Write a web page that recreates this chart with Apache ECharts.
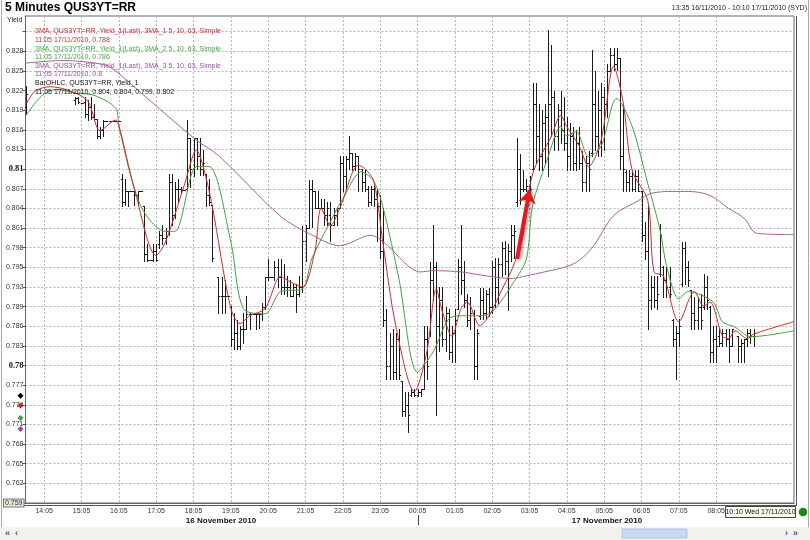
<!DOCTYPE html>
<html><head><meta charset="utf-8">
<script src="https://cdn.jsdelivr.net/npm/echarts@6/dist/echarts.min.js"></script>
<style>html,body{margin:0;padding:0;background:#fff}#c{width:810px;height:540px}</style>
</head><body><div id="c"></div>
<script>
// ---- DATA ----
const startMinute = 13 * 60 + 35;   // 13:35 16/11/2010
const slotCount = 248;              // 5-minute slots to 10:10 17/11/2010
const hourTickLabels = ['14:05','15:05','16:05','17:05','18:05','19:05','20:05','21:05','22:05','23:05','00:05','01:05','02:05','03:05','04:05','05:05','06:05','07:05','08:05'];
const yTickValues = [0.759,0.762,0.765,0.768,0.771,0.774,0.777,0.78,0.783,0.786,0.789,0.792,0.795,0.798,0.801,0.804,0.807,0.81,0.813,0.816,0.819,0.822,0.825,0.828];

// [slot, open, high, low, close]
const ohlcBars = [
[0,.8195,.8227,.8185,.8215],
[16,.8205,.8211,.8200,.8208],[17,.8208,.8211,.8201,.8203],[18,.8201,.8201,.8201,.8201],
[19,.8203,.8211,.8180,.8185],[20,.8185,.8205,.8175,.8195],[21,.8195,.8210,.8176,.8180],[22,.8180,.8200,.8175,.8176],
[23,.8176,.8176,.8147,.8150],[24,.8150,.8165,.8147,.8160],[25,.8160,.8175,.8150,.8174],
[26,.8174,.8174,.8174,.8174],[27,.8174,.8174,.8174,.8174],[28,.8174,.8174,.8174,.8174],[29,.8174,.8174,.8174,.8174],[30,.8174,.8174,.8174,.8174],
[31,.8085,.8093,.8043,.8050],[32,.8050,.8085,.8045,.8066],[33,.8066,.8067,.8043,.8066],[34,.8066,.8066,.8066,.8066],
[35,.8066,.8066,.8045,.8060],[36,.8060,.8067,.8045,.8066],[37,.8066,.8066,.8066,.8066],
[38,.8043,.8043,.7960,.7970],[39,.7970,.7986,.7960,.7962],[40,.7962,.7962,.7962,.7962],[41,.7962,.7986,.7960,.7975],[42,.7975,.7986,.7960,.7962],
[43,.7985,.8005,.7979,.8000],[44,.8000,.8014,.7985,.7995],[45,.7995,.8010,.7985,.8005],
[46,.8005,.8093,.8000,.8080],[47,.8080,.8093,.8014,.8030],[48,.8030,.8080,.8025,.8070],[49,.8070,.8085,.8050,.8070],
[50,.8070,.8072,.8065,.8068],[51,.8068,.8068,.8068,.8068],
[52,.8070,.8175,.8068,.8147],[53,.8147,.8147,.8072,.8100],[54,.8100,.8147,.8090,.8147],
[55,.8147,.8147,.8100,.8120],[56,.8120,.8147,.8091,.8100],[57,.8100,.8130,.8091,.8110],
[58,.8093,.8093,.8043,.8060],[59,.8060,.8085,.8045,.8050],[60,.8045,.8045,.7960,.7965],
[62,.7935,.7936,.7880,.7907],[63,.7907,.7935,.7880,.7907],[64,.7907,.7930,.7880,.7907],[65,.7907,.7907,.7907,.7907],
[66,.7890,.7891,.7830,.7840],[67,.7840,.7880,.7826,.7850],[68,.7850,.7870,.7826,.7830],[69,.7830,.7860,.7826,.7856],[70,.7856,.7880,.7835,.7856],
[71,.7856,.7907,.7856,.7879],[72,.7879,.7880,.7856,.7879],[73,.7879,.7879,.7879,.7879],[74,.7879,.7879,.7856,.7879],[75,.7879,.7880,.7857,.7879],[76,.7879,.7895,.7870,.7890],
[77,.7890,.7935,.7887,.7935],[78,.7935,.7963,.7930,.7935],[79,.7935,.7935,.7935,.7935],[80,.7935,.7960,.7930,.7950],[81,.7950,.7963,.7920,.7935],[82,.7935,.7963,.7910,.7920],
[83,.7920,.7955,.7910,.7920],[84,.7920,.7937,.7907,.7920],[85,.7920,.7930,.7907,.7907],[86,.7907,.7925,.7907,.7920],[87,.7920,.7925,.7882,.7910],[88,.7910,.7937,.7907,.7920],
[89,.7920,.8013,.7912,.7990],[90,.7990,.8015,.7960,.8010],[91,.8010,.8083,.8010,.8070],[92,.8070,.8083,.8012,.8067],
[93,.8067,.8067,.8040,.8041],[94,.8041,.8067,.8040,.8041],[95,.8041,.8055,.8040,.8041],
[96,.8041,.8055,.8014,.8030],[97,.8030,.8050,.8014,.8040],[98,.8030,.8050,.7990,.8014],[99,.8014,.8040,.8014,.8030],[100,.8030,.8040,.8014,.8040],
[101,.8040,.8120,.8040,.8110],[102,.8110,.8120,.8067,.8090],[103,.8090,.8120,.8070,.8115],
[104,.8115,.8150,.8100,.8124],[105,.8124,.8124,.8098,.8105],[106,.8105,.8124,.8098,.8120],
[107,.8120,.8120,.8067,.8100],[108,.8100,.8100,.8067,.8080],[109,.8080,.8098,.8067,.8070],
[110,.8070,.8075,.8044,.8050],[111,.8050,.8075,.8045,.8070],[112,.8070,.8075,.8044,.8055],[113,.8055,.8070,.7990,.8044],
[114,.8044,.8060,.7965,.7975],[115,.7975,.8040,.7860,.7870],
[116,.7870,.7887,.7780,.7800],[117,.7800,.7850,.7780,.7830],[118,.7830,.7856,.7780,.7790],[119,.7790,.7850,.7780,.7840],[120,.7840,.7856,.7780,.7785],
[121,.7777,.7777,.7723,.7730],[122,.7730,.7760,.7723,.7740],[123,.7740,.7760,.7698,.7725],
[124,.7755,.7764,.7754,.7760],[125,.7760,.7764,.7754,.7755],[126,.7755,.7764,.7754,.7760],[127,.7760,.7764,.7754,.7764],
[128,.7764,.7860,.7764,.7840],[129,.7840,.7860,.7780,.7800],
[130,.7850,.7958,.7845,.7930],[131,.7930,.8014,.7900,.7950],[132,.7950,.7958,.7725,.7860],
[133,.7860,.7920,.7822,.7900],[134,.7900,.7920,.7830,.7840],[135,.7840,.7890,.7822,.7880],
[136,.7880,.7887,.7810,.7820],[137,.7820,.7860,.7806,.7850],[138,.7850,.7887,.7806,.7870],
[139,.7887,.7963,.7887,.7950],[140,.7950,.8014,.7910,.7930],[141,.7930,.7960,.7890,.7900],
[142,.7900,.7910,.7860,.7870],[143,.7870,.7905,.7856,.7880],[144,.7880,.7885,.7780,.7800],[145,.7800,.7856,.7780,.7850],
[146,.7875,.7918,.7871,.7900],[147,.7900,.7918,.7871,.7880],[148,.7880,.7915,.7871,.7910],[149,.7910,.7918,.7875,.7890],
[150,.7890,.7960,.7880,.7950],[151,.7950,.7965,.7890,.7920],[152,.7920,.7965,.7895,.7955],
[153,.7955,.7988,.7937,.7980],[154,.7980,.7990,.7940,.7960],[155,.7960,.7985,.7885,.7975],
[156,.7975,.8014,.7960,.8000],[157,.8000,.8014,.7965,.8005],
[158,.8050,.8147,.8044,.8100],[159,.8100,.8123,.8047,.8070],
[160,.8070,.8098,.8067,.8070],[161,.8070,.8085,.8067,.8075],[162,.8075,.8090,.8067,.8070],
[163,.8100,.8231,.8098,.8200],[164,.8200,.8231,.8110,.8150],
[165,.8150,.8200,.8098,.8120],[166,.8120,.8190,.8098,.8170],[167,.8170,.8200,.8110,.8180],
[168,.8180,.8312,.8090,.8200],[169,.8200,.8290,.8150,.8210],
[170,.8210,.8220,.8130,.8150],[171,.8150,.8200,.8130,.8190],[172,.8190,.8220,.8140,.8160],[173,.8160,.8210,.8130,.8140],
[174,.8140,.8180,.8098,.8120],[175,.8120,.8170,.8098,.8150],
[176,.8150,.8165,.8098,.8110],[177,.8110,.8160,.8098,.8140],[178,.8140,.8165,.8100,.8110],
[179,.8110,.8128,.8067,.8080],[180,.8080,.8120,.8067,.8110],[181,.8110,.8128,.8067,.8100],
[182,.8125,.8282,.8120,.8200],[183,.8200,.8250,.8130,.8150],[184,.8150,.8220,.8120,.8190],
[185,.8190,.8231,.8120,.8210],[186,.8210,.8225,.8130,.8200],[187,.8200,.8260,.8180,.8250],
[188,.8250,.8285,.8250,.8275],[189,.8275,.8285,.8252,.8260],[190,.8260,.8285,.8252,.8270],
[191,.8270,.8270,.8100,.8120],[192,.8120,.8200,.8067,.8100],
[193,.8095,.8098,.8067,.8080],[194,.8080,.8098,.8067,.8090],[195,.8090,.8098,.8067,.8070],[196,.8070,.8098,.8067,.8090],[197,.8090,.8098,.8067,.8067],
[198,.8067,.8067,.7990,.8000],[199,.8000,.8020,.7963,.7975],
[200,.7975,.8044,.7856,.7900],[201,.7900,.7937,.7887,.7920],[202,.7920,.7937,.7890,.7900],[203,.7900,.7937,.7887,.7910],
[204,.7940,.8016,.7937,.8000],
[205,.7950,.7952,.7905,.7930],[206,.7930,.7950,.7905,.7920],[207,.7920,.7950,.7905,.7910],
[208,.7870,.7871,.7830,.7840],[209,.7840,.7860,.7780,.7850],[210,.7850,.7871,.7830,.7860],
[211,.7925,.7989,.7922,.7980],[212,.7980,.7989,.7925,.7950],[213,.7950,.7960,.7922,.7930],
[214,.7915,.7915,.7856,.7880],[215,.7880,.7905,.7856,.7870],[216,.7870,.7905,.7856,.7890],[217,.7890,.7910,.7856,.7870],
[218,.7890,.7940,.7887,.7920],[219,.7920,.7937,.7887,.7900],
[220,.7890,.7891,.7806,.7820],[221,.7820,.7860,.7806,.7840],[222,.7840,.7860,.7806,.7830],
[223,.7845,.7856,.7830,.7835],[224,.7835,.7856,.7830,.7850],[225,.7850,.7856,.7830,.7840],
[226,.7840,.7856,.7806,.7830],[227,.7830,.7856,.7830,.7856],
[229,.7845,.7845,.7806,.7830],[230,.7830,.7840,.7806,.7835],[231,.7835,.7840,.7806,.7840],
[232,.7840,.7856,.7830,.7850],[233,.7850,.7856,.7835,.7845],[234,.7845,.7856,.7830,.7850]
];

// [slot, value]
const ma5Points = [
[0,.8197],[3,.8219],[8,.8226],[14,.8220],[20,.8204],[24,.8159],[29,.8175],[30,.8167],[35,.8070],[42,.7968],[45,.7989],
[51,.8075],[55,.8129],[57,.8106],[60,.8044],[66,.7887],[69,.7864],[72,.7876],[77,.7887],[82,.7936],[85,.7928],[89,.7920],
[93,.7974],[95,.8040],[98,.8014],[101,.8040],[107,.8106],[109,.8101],[112,.8081],[115,.7983],[119,.7861],[125,.7760],
[129,.7821],[132,.7917],[134,.7882],[137,.7845],[140,.7887],[142,.7897],[146,.7861],[149,.7876],[153,.7915],[156,.7943],
[158,.7968],[160,.8000],[163,.8093],[169,.8150],[172,.8182],[174,.8165],[178,.8135],[181,.8104],[185,.8144],[189,.8257],
[192,.8205],[195,.8098],[200,.8052],[202,.7943],[205,.7937],[210,.7867],[215,.7913],[218,.7891],[220,.7897],[224,.7845],
[226,.7841],[228,.7853],[232,.7841],[234,.7848],[247,.7867]
];
const ma10Points = [
[0,.8181],[5,.8211],[10,.8222],[16,.8216],[22,.8213],[29,.8193],[30,.8165],[37,.8044],[45,.8005],[48,.8005],[55,.8104],
[59,.8104],[66,.7989],[70,.7887],[77,.7879],[82,.7913],[89,.7917],[92,.7963],[98,.8020],[102,.8055],[108,.8096],[112,.8081],
[115,.8040],[120,.7933],[126,.7790],[131,.7821],[136,.7871],[140,.7876],[146,.7876],[150,.7882],[157,.7928],[161,.7963],
[163,.8045],[168,.8119],[172,.8165],[174,.8151],[177,.8157],[181,.8119],[185,.8135],[190,.8208],[195,.8165],[200,.8078],
[204,.8006],[206,.7953],[210,.7902],[213,.7913],[221,.7897],[224,.7867],[228,.7859],[233,.7844],[247,.7853]
];
const ma63Points = [
[0,.8262],[12,.8266],[25,.8260],[29,.8250],[38,.8213],[55,.8144],[62,.8121],[82,.8028],[91,.8002],[101,.7983],[111,.7999],
[115,.7989],[127,.7943],[131,.7945],[140,.7943],[148,.7937],[156,.7933],[161,.7937],[164,.7940],[176,.7955],[182,.7979],
[189,.8029],[197,.8052],[201,.8063],[208,.8066],[213,.8066],[220,.8060],[226,.8040],[231,.8025],[235,.8002],[247,.8000]
];
// last values shown as markers on the left of the value axis
const axisMarkers = [['#000000',.7754],['#d02020',.7739],['#3aa83a',.7720],['#9a4e96',.7703]];
// arrow annotation: [slot, value] start and end
const arrowFrom = [158, .7963];
const arrowTo = [162, .8068];

const legendLines = [
 ['3MA, QUS3YT=RR, Yield_1(Last), 3MA_1 5, 10, 63, Simple','#c83232'],
 ['11:05 17/11/2010, 0.788','#c83232'],
 ['3MA, QUS3YT=RR, Yield_1(Last), 3MA_2 5, 10, 63, Simple','#4aa84a'],
 ['11:05 17/11/2010, 0.786','#4aa84a'],
 ['3MA, QUS3YT=RR, Yield_1(Last), 3MA_3 5, 10, 63, Simple','#9a4e96'],
 ['11:05 17/11/2010, 0.8','#9a4e96'],
 ['BarOHLC, QUS3YT=RR, Yield_1','#111111'],
 ['11:05 17/11/2010, 0.804, 0.804, 0.799, 0.802','#111111']
];

// ---- AXIS CATEGORIES ----
const categories = [];
for (let i = 0; i < slotCount; i++) {
  const t = (startMinute + i * 5) % 1440;
  categories.push(String(Math.floor(t / 60)).padStart(2, '0') + ':' + String(t % 60).padStart(2, '0'));
}
const isHourTick = (idx) => hourTickLabels.indexOf(categories[idx]) >= 0 && idx < 230;

const FONT = '"Liberation Sans", Arial, sans-serif';
const chart = echarts.init(document.getElementById('c'), null, {renderer: 'canvas'});

function renderOHLC(params, api) {
  const x = api.value(0);
  const o = api.coord([x, api.value(1)]);
  const h = api.coord([x, api.value(2)]);
  const l = api.coord([x, api.value(3)]);
  const c = api.coord([x, api.value(4)]);
  const px = Math.round(h[0]) + 0.5;
  const s = {stroke: '#1c1c1c', lineWidth: 1};
  const oy = Math.round(o[1]) + 0.5, cy = Math.round(c[1]) + 0.5;
  return {type: 'group', children: [
    {type: 'line', shape: {x1: px, y1: Math.round(h[1]), x2: px, y2: Math.round(l[1]) + 1}, style: s},
    {type: 'line', shape: {x1: px - 1.7, y1: oy, x2: px, y2: oy}, style: s},
    {type: 'line', shape: {x1: px, y1: cy, x2: px + 1.7, y2: cy}, style: s}
  ]};
}

const graphics = [
  {type: 'text', left: 5, top: 2, style: {text: '5 Minutes QUS3YT=RR', font: 'bold 12px ' + FONT, fill: '#000'}},
  {type: 'text', right: 3, top: 5, style: {text: '13:35 16/11/2010 - 10:10 17/11/2010 (SYD)', font: '7px ' + FONT, fill: '#222'}},
  {type: 'text', left: 7, top: 17, style: {text: 'Yield', font: '7px ' + FONT, fill: '#222'}},
  {type: 'line', shape: {x1: 796.5, y1: 16, x2: 796.5, y2: 505.5}, style: {stroke: '#555', lineWidth: 1}},
  {type: 'line', shape: {x1: 23, y1: 505.5, x2: 797, y2: 505.5}, style: {stroke: '#555', lineWidth: 1}},
  {type: 'text', x: 221, y: 517, style: {text: '16 November 2010', font: 'bold 8px ' + FONT, fill: '#111', align: 'center'}},
  {type: 'text', x: 607, y: 517, style: {text: '17 November 2010', font: 'bold 8px ' + FONT, fill: '#111', align: 'center'}},
  {type: 'line', shape: {x1: 418.5, y1: 515, x2: 418.5, y2: 525}, style: {stroke: '#444', lineWidth: 1}},
  {type: 'rect', z: 100, shape: {x: 725.5, y: 506.5, width: 70, height: 11}, style: {fill: '#fbfbf0', stroke: '#444', lineWidth: 1}},
  {type: 'text', z: 101, x: 760.5, y: 508.5, style: {text: '10:10 Wed 17/11/2010', font: '7px ' + FONT, fill: '#111', align: 'center'}},
  {type: 'circle', z: 101, shape: {cx: 803, cy: 512, r: 4.3}, style: {fill: '#168a16'}},
  {type: 'rect', shape: {x: 0, y: 527, width: 810, height: 13}, style: {fill: '#f1f1ee'}},
  {type: 'rect', shape: {x: 622, y: 529, width: 65, height: 9}, style: {fill: '#cad9f1', stroke: '#b0c4e6', lineWidth: 1}},
  {type: 'text', x: 5, y: 529, style: {text: '\u00AB  \u2039', font: 'bold 9px ' + FONT, fill: '#3357b0'}},
  {type: 'text', x: 785, y: 529, style: {text: '\u203A  \u00BB', font: 'bold 9px ' + FONT, fill: '#3357b0'}},
  {type: 'line', shape: {x1: 1.5, y1: 0, x2: 1.5, y2: 527}, style: {stroke: '#aaa', lineWidth: 1}},
  {type: 'line', shape: {x1: 808.5, y1: 0, x2: 808.5, y2: 527}, style: {stroke: '#aaa', lineWidth: 1}}
];
legendLines.forEach((ln, k) => {
  graphics.push({type: 'text', left: 35, top: 28 + k * 8.6, z: 50,
    style: {text: ln[0], font: '7px ' + FONT, fill: ln[1]}});
});

const option = {
  animation: false,
  backgroundColor: '#ffffff',
  grid: {left: 24, right: 16, top: 16, bottom: 37, show: true, borderColor: '#666', borderWidth: 1, backgroundColor: '#fff'},
  xAxis: {
    type: 'category', data: categories, boundaryGap: false,
    axisLine: {show: true, lineStyle: {color: '#666'}},
    axisTick: {show: false},
    axisLabel: {interval: (i) => isHourTick(i), fontSize: 7, color: '#333', margin: 5, fontFamily: FONT},
    splitLine: {show: true, interval: (i) => isHourTick(i), lineStyle: {color: '#b5b5b5', type: [2, 2], width: 1}}
  },
  yAxis: {
    type: 'value', min: 0.759, max: 0.8334, interval: 0.003, position: 'left',
    axisLine: {show: true, lineStyle: {color: '#666'}},
    axisTick: {show: true, length: 3, lineStyle: {color: '#555'}},
    axisLabel: {
      margin: 2, fontSize: 7, color: '#333', fontFamily: FONT, showMaxLabel: false,
      formatter: (v) => {
        const r = Math.round(v * 1000) / 1000;
        if (yTickValues.indexOf(r) < 0) return '';
        const s = String(r);
        if (Math.abs(r - 0.81) < 1e-9 || Math.abs(r - 0.78) < 1e-9) return '{b|' + s + '}';
        if (Math.abs(r - 0.759) < 1e-9) return '{box|' + s + '}';
        return s;
      },
      rich: {
        b: {fontWeight: 'bold', fontSize: 8.5, fontFamily: '"Liberation Serif", serif', color: '#111'},
        box: {fontSize: 7, backgroundColor: '#e6e6d8', borderColor: '#777', borderWidth: 1, padding: [0, 1], color: '#333'}
      }
    },
    splitLine: {show: true, lineStyle: {color: '#b5b5b5', type: [2, 2], width: 1}}
  },
  graphic: graphics,
  series: [
    {type: 'custom', name: 'BarOHLC', renderItem: renderOHLC, encode: {x: 0, y: [1, 2, 3, 4]}, data: ohlcBars, z: 2, clip: true},
    {type: 'line', name: 'MA63', data: ma63Points, smooth: 0.3, showSymbol: false, z: 3,
      lineStyle: {color: '#a4619f', width: 1}},
    {type: 'line', name: 'MA10', data: ma10Points, smooth: 0.3, showSymbol: false, z: 4,
      lineStyle: {color: '#3fa33f', width: 1}},
    {type: 'line', name: 'MA5', data: ma5Points, smooth: 0.3, showSymbol: false, z: 5,
      lineStyle: {color: '#d02a2a', width: 1},
      markLine: {silent: true, symbol: ['none', 'arrow'], symbolSize: 13, label: {show: false},
        lineStyle: {color: '#e8151b', width: 4, type: 'solid', shadowColor: 'rgba(0,0,0,0.35)', shadowBlur: 3, shadowOffsetX: 2, shadowOffsetY: 1},
        emphasis: {disabled: true},
        data: [[{coord: arrowFrom}, {coord: arrowTo}]]}}
  ]
};
chart.setOption(option);

// value markers left of the axis
const markerGraphics = axisMarkers.map((m) => {
  const py = chart.convertToPixel({yAxisIndex: 0}, m[1]);
  return {type: 'polygon', shape: {points: [[20.5, py - 3], [23.5, py], [20.5, py + 3], [17.5, py]]}, style: {fill: m[0]}, z: 60};
});
chart.setOption({graphic: graphics.concat(markerGraphics)});
</script>
</body></html>
